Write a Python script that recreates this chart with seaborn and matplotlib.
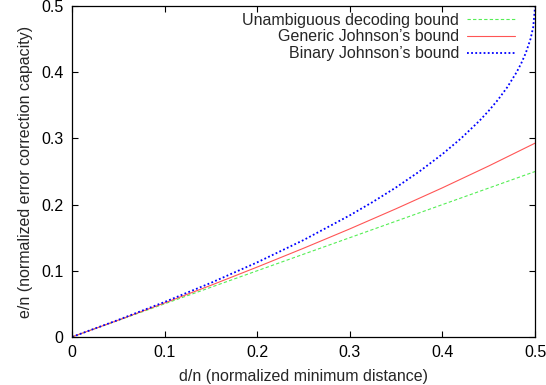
import pandas as pd
import seaborn as sns
import matplotlib.pyplot as plt

# values
x_common = [0, 0.05, 0.1, 0.15, 0.2, 0.25, 0.3, 0.35, 0.4, 0.45, 0.5]
unambiguous = [0, 0.025, 0.05, 0.075, 0.1, 0.125, 0.15, 0.175, 0.2, 0.225, 0.25]
generic = [0, 0.0253, 0.0513, 0.078, 0.1056, 0.134, 0.1633, 0.1938, 0.2254, 0.2584, 0.2929]

x_binary = [0, 0.05, 0.1, 0.15, 0.2, 0.25, 0.3, 0.325, 0.35, 0.375, 0.4, 0.42, 0.44,
            0.45, 0.46, 0.47, 0.48, 0.485, 0.49, 0.495, 0.498, 0.5]
binary = [0, 0.0257, 0.0528, 0.0817, 0.1127, 0.1464, 0.1838, 0.2042, 0.2261, 0.25,
          0.2764, 0.3, 0.3268, 0.3419, 0.3586, 0.3775, 0.4, 0.4134, 0.4293, 0.45,
          0.4684, 0.5]

labels = ["Unambiguous decoding bound", "Generic Johnson\u2019s bound", "Binary Johnson\u2019s bound"]

sns.set_style("ticks")
plt.rcParams['font.family'] = ['Liberation Sans', 'DejaVu Sans']
plt.rcParams['font.size'] = 11.5
plt.rcParams['xtick.direction'] = 'in'
plt.rcParams['ytick.direction'] = 'in'

fig, ax = plt.subplots(figsize=(5.46, 3.85), dpi=100)
fig.subplots_adjust(left=0.132, right=0.980, bottom=0.125, top=0.984)

df1 = pd.DataFrame({'x': x_common, 'y': unambiguous})
df2 = pd.DataFrame({'x': x_common, 'y': generic})
df3 = pd.DataFrame({'x': x_binary, 'y': binary})

sns.lineplot(data=df1, x='x', y='y', ax=ax, color='#55ee55', lw=0.8,
             linestyle=(0, (3, 2)), label=labels[0])
sns.lineplot(data=df2, x='x', y='y', ax=ax, color='#ff5555', lw=0.8,
             label=labels[1])
sns.lineplot(data=df3, x='x', y='y', ax=ax, color='#0000ff', lw=1.3,
             linestyle=(0, (1, 1.3)), label=labels[2])

ax.set_xlim(0, 0.5)
ax.set_ylim(0, 0.5)
ax.set_xticks([0, 0.1, 0.2, 0.3, 0.4, 0.5])
ax.set_yticks([0, 0.1, 0.2, 0.3, 0.4, 0.5])
ax.set_xticklabels(['0', '0.1', '0.2', '0.3', '0.4', '0.5'])
ax.set_yticklabels(['0', '0.1', '0.2', '0.3', '0.4', '0.5'])
ax.tick_params(top=True, right=True, length=4, width=0.8, colors='black', pad=6)
for s in ax.spines.values():
    s.set_visible(True)
    s.set_color('black')
    s.set_linewidth(0.9)

ax.set_xlabel('d/n (normalized minimum distance)', labelpad=6)
ax.set_ylabel('e/n (normalized error correction capacity)', labelpad=6)

ax.legend(loc='upper right', bbox_to_anchor=(0.97, 1.0), frameon=False,
          markerfirst=False, handlelength=3.0, borderaxespad=0.0,
          labelspacing=0.12, handletextpad=0.5)

plt.savefig('out.png', dpi=100)
